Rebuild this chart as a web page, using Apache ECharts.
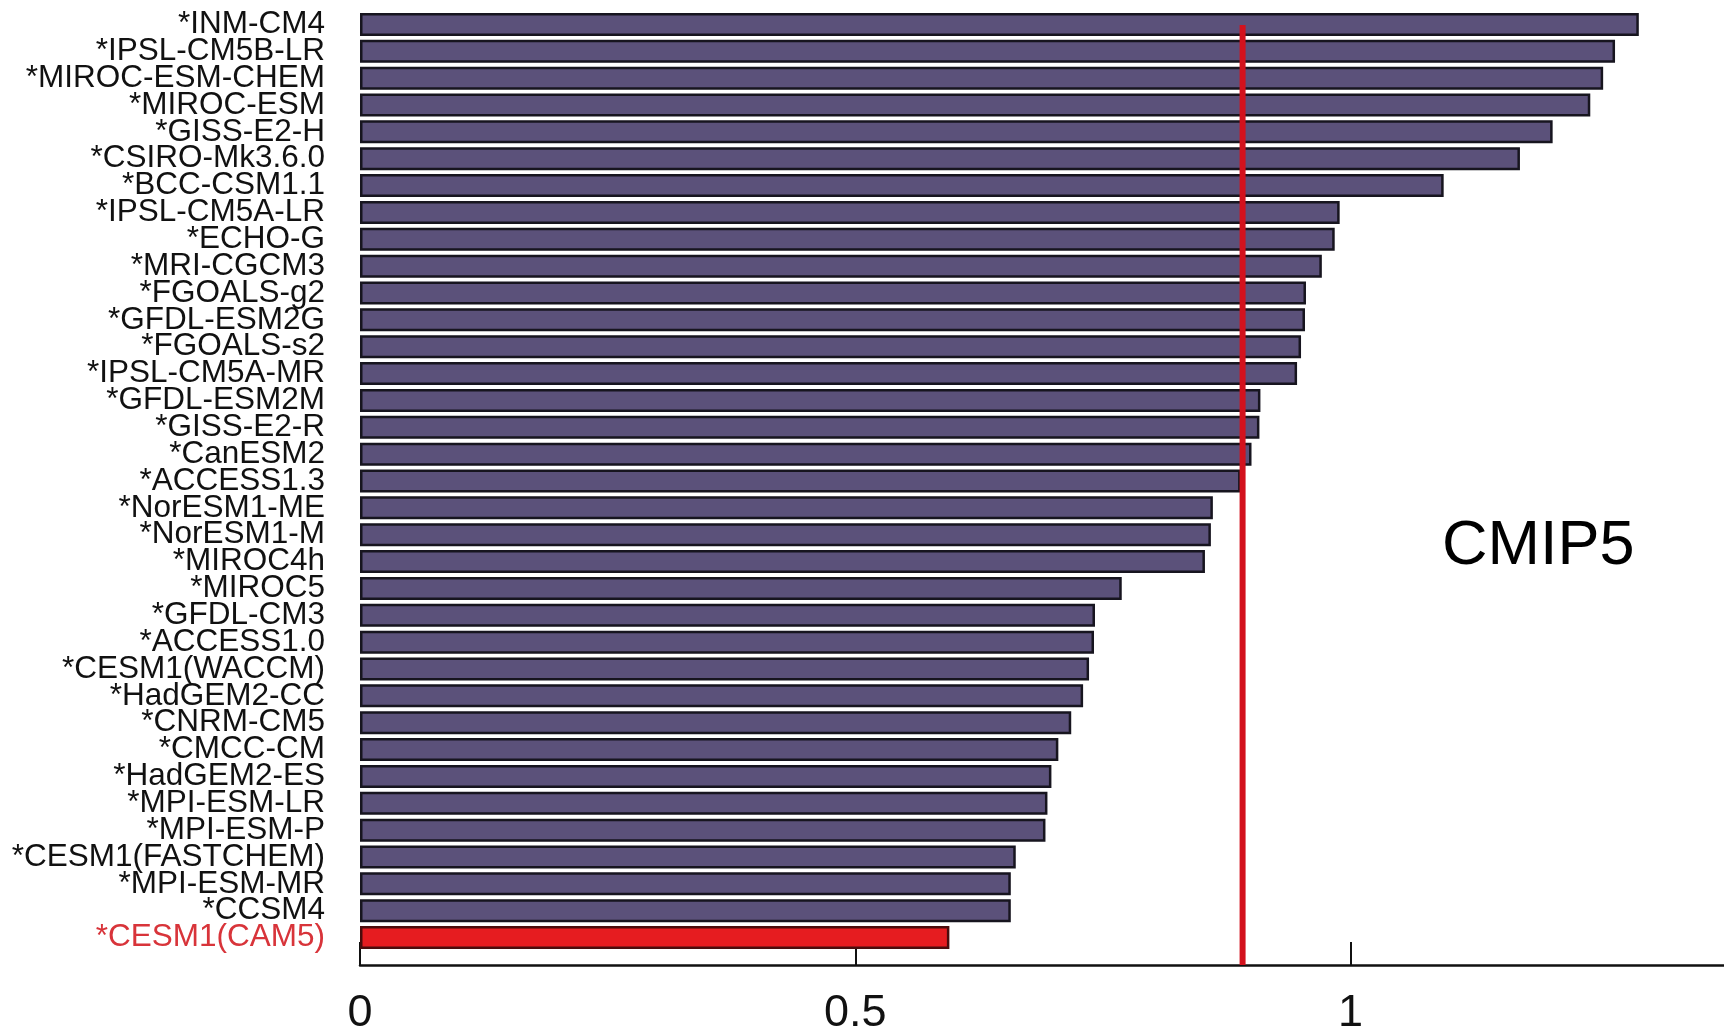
<!DOCTYPE html>
<html>
<head>
<meta charset="utf-8">
<script src="https://cdn.jsdelivr.net/npm/echarts@6/dist/echarts.min.js"></script>
<style>
html,body{margin:0;padding:0;background:#fff;}
#chart{width:1724px;height:1033px;}
</style>
</head>
<body>
<div id="chart"></div>
<script>
// ---- data ----
const models = [
  '*INM-CM4', '*IPSL-CM5B-LR', '*MIROC-ESM-CHEM', '*MIROC-ESM', '*GISS-E2-H',
  '*CSIRO-Mk3.6.0', '*BCC-CSM1.1', '*IPSL-CM5A-LR', '*ECHO-G', '*MRI-CGCM3',
  '*FGOALS-g2', '*GFDL-ESM2G', '*FGOALS-s2', '*IPSL-CM5A-MR', '*GFDL-ESM2M',
  '*GISS-E2-R', '*CanESM2', '*ACCESS1.3', '*NorESM1-ME', '*NorESM1-M',
  '*MIROC4h', '*MIROC5', '*GFDL-CM3', '*ACCESS1.0', '*CESM1(WACCM)',
  '*HadGEM2-CC', '*CNRM-CM5', '*CMCC-CM', '*HadGEM2-ES', '*MPI-ESM-LR',
  '*MPI-ESM-P', '*CESM1(FASTCHEM)', '*MPI-ESM-MR', '*CCSM4', '*CESM1(CAM5)'
];
const values = [
  1.291, 1.267, 1.255, 1.242, 1.204,
  1.171, 1.094, 0.989, 0.984, 0.971,
  0.955, 0.954, 0.950, 0.946, 0.909,
  0.908, 0.900, 0.889, 0.861, 0.859,
  0.853, 0.769, 0.742, 0.741, 0.736,
  0.730, 0.718, 0.705, 0.698, 0.694,
  0.692, 0.662, 0.657, 0.657, 0.595
];
const highlightModel = '*CESM1(CAM5)';
const referenceValue = [0.891];
const xTicks = [0, 0.5, 1];
const panelLabel = 'CMIP5';

// ---- styles ----
const AXIS_MAX = 1.377;
const barColor = '#5b517a';
const barBorder = '#17151f';
const hiColor = '#e61c20';
const hiBorder = '#4a0c0c';
const hiLabel = '#d8343a';
const refColor = '#d3121d';
const FONT = '"Liberation Sans", Arial, Helvetica, sans-serif';

const barData = values.map((v, i) => ({
  value: v,
  itemStyle: models[i] === highlightModel
    ? { color: hiColor, borderColor: hiBorder, borderWidth: 2.5 }
    : { color: barColor, borderColor: barBorder, borderWidth: 2.5 }
}));

const chart = echarts.init(document.getElementById('chart'), null, { renderer: 'canvas' });
chart.setOption({
  animation: false,
  backgroundColor: '#ffffff',
  textStyle: { fontFamily: FONT },
  grid: [
    { left: 360, right: 0, top: 11, bottom: 82, containLabel: false, outerBoundsMode: 'none' },   // bars
    { left: 360, right: 0, top: 949, bottom: 68, containLabel: false, outerBoundsMode: 'none' },  // x axis
    { left: 360, right: 0, top: 25, bottom: 68, containLabel: false, outerBoundsMode: 'none' }    // reference line
  ],
  xAxis: [
    { gridIndex: 0, type: 'value', min: 0, max: AXIS_MAX, show: false },
    {
      gridIndex: 1, type: 'value', min: 0, max: AXIS_MAX, interval: 0.5,
      axisLine: { show: true, lineStyle: { color: '#111', width: 2.5 } },
      axisTick: { show: true, inside: true, length: 23, lineStyle: { color: '#111', width: 2 } },
      splitLine: { show: false },
      axisLabel: {
        show: true, margin: 26, fontSize: 45, color: '#111', fontFamily: FONT,
        showMaxLabel: false,
        formatter: v => (xTicks.some(t => Math.abs(t - v) < 1e-9) ? String(v) : '')
      }
    },
    { gridIndex: 2, type: 'value', min: 0, max: AXIS_MAX, show: false }
  ],
  yAxis: [
    {
      gridIndex: 0, type: 'category', data: models, inverse: true,
      axisLine: { show: false }, axisTick: { show: false }, splitLine: { show: false },
      axisLabel: {
        show: true, interval: 0, margin: 35, fontSize: 31.5, fontFamily: FONT,
        color: (val) => (val === highlightModel ? hiLabel : '#111')
      }
    },
    {
      gridIndex: 1, type: 'value', min: 0, max: 1,
      axisLine: { show: true, onZero: false, lineStyle: { color: '#111', width: 2 } },
      axisTick: { show: false }, axisLabel: { show: false }, splitLine: { show: false }
    },
    { gridIndex: 2, type: 'value', min: 0, max: 1, show: false }
  ],
  series: [
    {
      type: 'bar', xAxisIndex: 0, yAxisIndex: 0, data: barData,
      barWidth: 23, z: 3, silent: true
    },
    {
      type: 'line', xAxisIndex: 2, yAxisIndex: 2, z: 6, silent: true,
      showSymbol: false, symbol: 'none',
      lineStyle: { color: refColor, width: 6 },
      data: [[referenceValue[0], 0], [referenceValue[0], 1]]
    }
  ],
  graphic: [
    {
      type: 'text', left: 1442, top: 515, z: 10,
      style: { text: panelLabel, fontSize: 63, fontFamily: FONT, fill: '#000' }
    }
  ]
});
</script>
</body>
</html>
